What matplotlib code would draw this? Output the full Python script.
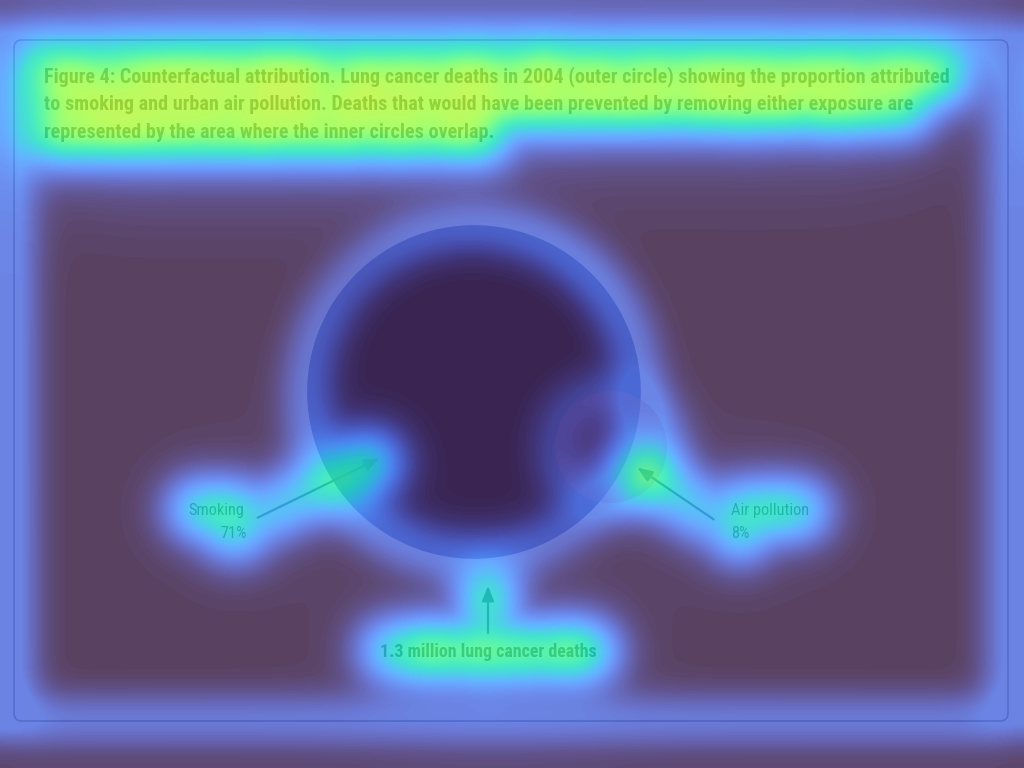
import numpy as np
import matplotlib
matplotlib.use('Agg')
import matplotlib.pyplot as plt
from matplotlib import font_manager
from matplotlib.patches import Circle, FancyBboxPatch

# data
total_label = '1.3 million lung cancer deaths'
risk_names = ['Smoking', 'Air pollution']
risk_shares = [0.71, 0.08]          # share of lung cancer deaths
risk_pct = ['71%', '8%']
caption_lines = [
    'Figure 4: Counterfactual attribution. Lung cancer deaths in 2004 (outer circle) showing the proportion attributed',
    'to smoking and urban air pollution. Deaths that would have been prevented by removing either exposure are',
    'represented by the area where the inner circles overlap.',
]

names = set(f.name for f in font_manager.fontManager.ttflist)
cond = [n for n in ['Liberation Sans Narrow', 'Roboto Condensed', 'Open Sans Condensed',
                    'Roboto', 'Liberation Sans'] if n in names][:1] + ['DejaVu Sans']

W, H = 1024, 768
fig = plt.figure(figsize=(W / 100, H / 100), dpi=100)
fig.patch.set_facecolor('white')
ax = fig.add_axes([0, 0, 1, 1])
ax.set_xlim(0, W)
ax.set_ylim(H, 0)
ax.axis('off')
renderer = fig.canvas.get_renderer()


def fit(t, width):
    # shrink/grow font so the text spans the width seen in the reference
    w = t.get_window_extent(renderer).width
    t.set_fontsize(t.get_fontsize() * width / w)
    return t


shapes = []
texts = []

# frame
shapes.append(ax.add_patch(FancyBboxPatch((14, 40), 994, 681, boxstyle='round,pad=0,rounding_size=8',
                                          fc='white', ec='#8a8a9a', lw=1.2)))

for i, line in enumerate(caption_lines):
    t = ax.text(44, 77 + 28 * i, line, fontsize=14, fontweight='bold', family=cond,
                color='#3a3a3a', va='center', ha='left')
    texts.append(t)
fs = texts[0].get_fontsize() * 904 / texts[0].get_window_extent(renderer).width
for t in texts:
    t.set_fontsize(fs)

# circles, area proportional to deaths
R = 198
cx, cy = 488, 385
shapes.append(ax.add_patch(Circle((cx, cy), R, fc='#fcfbfd', ec='none')))
r_smk = R * np.sqrt(risk_shares[0])
r_air = R * np.sqrt(risk_shares[1])
shapes.append(ax.add_patch(Circle((474, 392), r_smk, fc='#6271ae', ec='none')))
shapes.append(ax.add_patch(Circle((611, 447), r_air, fc='#e07a90', ec='none', alpha=0.4)))

akw = dict(arrowstyle='-|>,head_length=0.9,head_width=0.35', color='#3c4a70', lw=1.6)
texts.append(ax.annotate('', xy=(382, 457), xytext=(255, 519), arrowprops=akw))
texts.append(ax.annotate('', xy=(635, 466), xytext=(716, 521), arrowprops=akw))
texts.append(ax.annotate('', xy=(cx, cy + R), xytext=(cx, 636), arrowprops=akw))

texts.append(fit(ax.text(244, 510, risk_names[0], fontsize=13, family=cond, color='#3a3a3a',
                         ha='right', va='center'), 56))
texts.append(ax.text(247, 534, risk_pct[0], fontsize=texts[-1].get_fontsize(), family=cond,
                     color='#3a3a3a', ha='right', va='center'))
texts.append(ax.text(731, 510, risk_names[1], fontsize=texts[-1].get_fontsize(), family=cond,
                     color='#3a3a3a', ha='left', va='center'))
texts.append(ax.text(731, 534, risk_pct[1], fontsize=texts[-1].get_fontsize(), family=cond,
                     color='#3a3a3a', ha='left', va='center'))
texts.append(fit(ax.text(cx, 652, total_label, fontsize=14, fontweight='bold', family=cond,
                         color='#3a3a3a', ha='center', va='center'), 217))


def grab():
    fig.canvas.draw()
    return np.asarray(fig.canvas.buffer_rgba())[:, :, :3].astype(float).mean(axis=2) / 255


def blur(a, s):
    p = int(3 * s)
    b = np.pad(a, p, mode='reflect')
    fy = np.fft.fftfreq(b.shape[0])[:, None]
    fx = np.fft.rfftfreq(b.shape[1])[None, :]
    g = np.exp(-2 * (np.pi * s) ** 2 * (fx ** 2 + fy ** 2))
    out = np.fft.irfft2(np.fft.rfft2(b) * g, s=b.shape)
    return out[p:-p, p:-p]


# attention heat map built from the drawn picture: text ink + shape outlines
for a in shapes:
    a.set_visible(False)
ink = 1 - grab()
for a in shapes:
    a.set_visible(True)
for a in texts:
    a.set_visible(False)
lum = grab()
for a in texts:
    a.set_visible(True)
gx = np.abs(np.diff(lum, axis=1, append=lum[:, -1:]))
gy = np.abs(np.diff(lum, axis=0, append=lum[-1:, :]))
edges = ((gx + gy) > 0.03).astype(float)

t1 = np.clip(blur(ink, 16), 0, None)
t2 = blur(ink, 60)
e1 = blur(edges, 20)
heat = (0.47 * (t1 / t1.max()) ** 0.45 + 0.07 * t2 / t2.max()
        + 0.12 * np.clip(e1 / e1.max() * 1.5, 0, 1))
heat = np.clip(heat, 0, 0.56)

ov = fig.add_axes([0, 0, 1, 1])
ov.imshow(heat, cmap='turbo', vmin=0, vmax=1, alpha=0.8, aspect='auto', interpolation='bilinear')
ov.axis('off')

fig.savefig('out.png', dpi=100)
